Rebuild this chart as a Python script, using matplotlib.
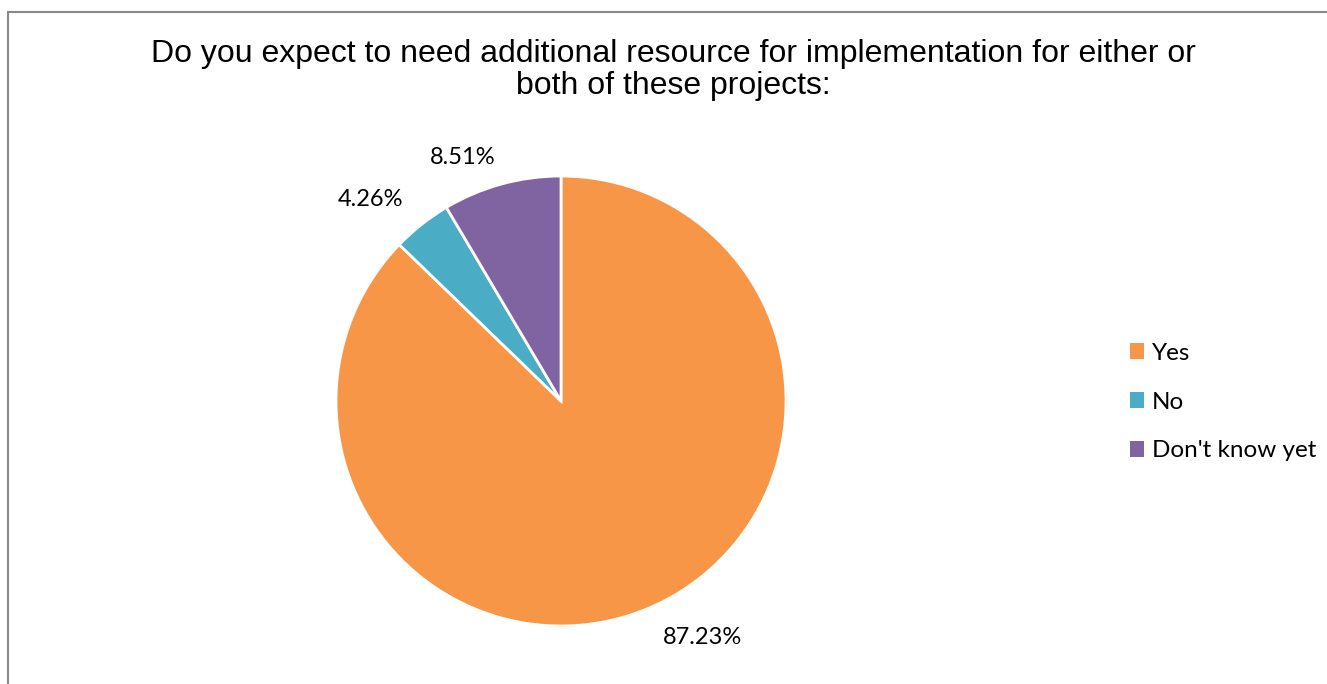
import matplotlib.pyplot as plt
from matplotlib.patches import Rectangle, Patch

categories = ["Yes", "No", "Don't know yet"]
shares = [87.23, 4.26, 8.51]
colors = ["#F79646", "#4BACC6", "#8064A2"]

title = "Do you expect to need additional resource for implementation for either or\nboth of these projects:"

W, H = 1327, 684
fig = plt.figure(figsize=(W / 100, H / 100), dpi=100)
ax = fig.add_axes([0, 0, 1, 1])
ax.set_xlim(0, W)
ax.set_ylim(0, H)
ax.set_aspect("equal")
ax.axis("off")

# pie drawn in pixel space, clockwise from 12 o'clock
cx, cy, r = 561, H - 401, 225
wedges, _, autotexts = ax.pie(
    shares, colors=colors, startangle=90, counterclock=False,
    center=(cx, cy), radius=r, autopct="%.2f%%", pctdistance=1.2,
    wedgeprops=dict(edgecolor="white", linewidth=2),
    textprops=dict(fontsize=17, family="Lato", color="#000000"),
)
ax.set_xlim(0, W)
ax.set_ylim(0, H)

# outside-end label spots (pixels from top-left)
label_xy = [(703, 638), (370, 199), (463, 157)]
for t, (lx, ly) in zip(autotexts, label_xy):
    t.set_position((lx, H - ly))
    t.set_ha("center")
    t.set_va("center")

fig.text(673 / W, 1 - 70 / H, title, ha="center", va="center",
         fontsize=23, family="Liberation Sans", linespacing=1.08)

handles = [Patch(facecolor=c, edgecolor="none") for c in colors]
fig.legend(handles, categories, loc="center left",
           bbox_to_anchor=(1108 / W, 1 - 402 / H), frameon=False,
           prop=dict(family="Lato", size=17.5), handlelength=0.6,
           handleheight=0.6, handletextpad=0.3, labelspacing=1.15)

fig.patches.append(Rectangle((8 / W, -0.1), 1.1, (H - 12) / H + 0.1,
                             transform=fig.transFigure, fill=False,
                             edgecolor="#898989", linewidth=1.5))

fig.savefig("out.png", dpi=100, facecolor="white")
